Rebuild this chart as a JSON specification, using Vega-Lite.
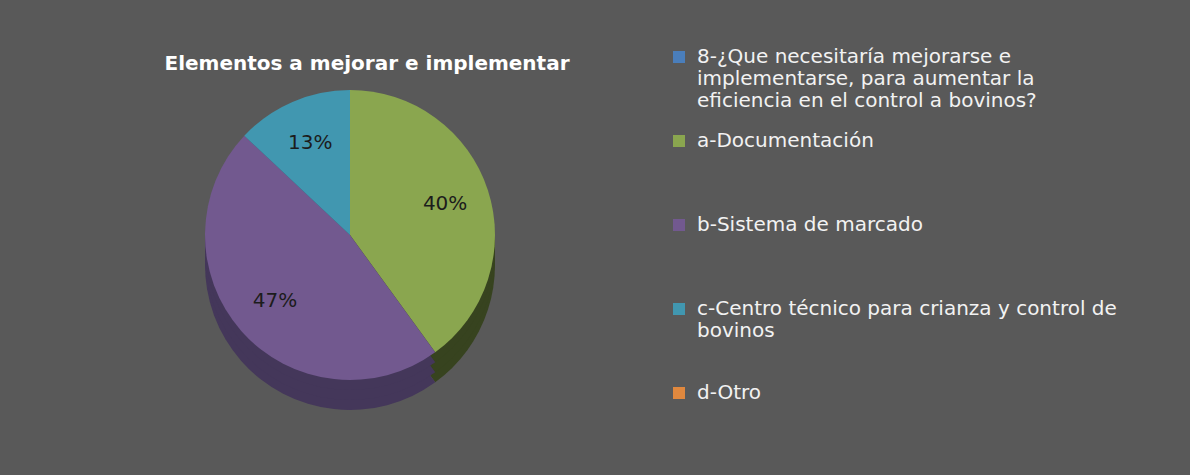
{
  "$schema": "https://vega.github.io/schema/vega-lite/v6.json",
  "autosize": {"type": "none"},
  "width": 700,
  "height": 450,
  "padding": {"left": 0, "top": 10, "right": 490, "bottom": 15},
  "background": "#595959",
  "config": {"view": {"stroke": null}},
  "title": {
    "text": "Elementos a mejorar e implementar",
    "anchor": "middle",
    "dx": 17,
    "offset": -84,
    "baseline": "bottom",
    "font": "DejaVu Sans",
    "fontSize": 20,
    "fontWeight": "bold",
    "color": "#ffffff"
  },
  "data": {
    "values": [
      {"cat": "8-¿Que necesitaría mejorarse e implementarse, para aumentar la eficiencia en el control a bovinos?", "share": 0},
      {"cat": "a-Documentación", "share": 0.40},
      {"cat": "b-Sistema de marcado", "share": 0.47},
      {"cat": "c-Centro técnico para crianza y control de bovinos", "share": 0.13},
      {"cat": "d-Otro", "share": 0}
    ]
  },
  "layer": [
    {
      "mark": {"type": "arc", "radius": 145, "yOffset": 30},
      "encoding": {
        "theta": {"field": "share", "type": "quantitative", "stack": true},
        "order": {"field": "cat", "type": "ordinal", "sort": "ascending"},
        "fill": {
          "condition": [
            {"test": "datum.cat == 'a-Documentación'", "value": "#37431F"},
            {"test": "datum.cat == 'b-Sistema de marcado'", "value": "#44375A"}
          ],
          "value": "#2B5F6E"
        }
      }
    },
    {
      "mark": {"type": "arc", "radius": 145, "yOffset": 20},
      "encoding": {
        "theta": {"field": "share", "type": "quantitative", "stack": true},
        "order": {"field": "cat", "type": "ordinal", "sort": "ascending"},
        "fill": {
          "condition": [
            {"test": "datum.cat == 'a-Documentación'", "value": "#37431F"},
            {"test": "datum.cat == 'b-Sistema de marcado'", "value": "#44375A"}
          ],
          "value": "#2B5F6E"
        }
      }
    },
    {
      "mark": {"type": "arc", "radius": 145, "yOffset": 10},
      "encoding": {
        "theta": {"field": "share", "type": "quantitative", "stack": true},
        "order": {"field": "cat", "type": "ordinal", "sort": "ascending"},
        "fill": {
          "condition": [
            {"test": "datum.cat == 'a-Documentación'", "value": "#37431F"},
            {"test": "datum.cat == 'b-Sistema de marcado'", "value": "#44375A"}
          ],
          "value": "#2B5F6E"
        }
      }
    },
    {
      "mark": {"type": "arc", "radius": 145},
      "encoding": {
        "theta": {"field": "share", "type": "quantitative", "stack": true},
        "order": {"field": "cat", "type": "ordinal", "sort": "ascending"},
        "color": {
          "field": "cat",
          "type": "nominal",
          "scale": {
            "domain": [
              "8-¿Que necesitaría mejorarse e implementarse, para aumentar la eficiencia en el control a bovinos?",
              "a-Documentación",
              "b-Sistema de marcado",
              "c-Centro técnico para crianza y control de bovinos",
              "d-Otro"
            ],
            "range": ["#4A7EBB", "#8AA64F", "#72598F", "#4197B0", "#E0883E"]
          },
          "legend": {
            "orient": "none",
            "legendX": 669,
            "legendY": 37,
            "title": null,
            "symbolType": "square",
            "symbolSize": 144,
            "symbolStrokeWidth": 0,
            "labelFont": "DejaVu Sans",
            "labelFontSize": 20,
            "labelColor": "#f2f2f2",
            "labelLimit": 520,
            "labelOffset": 8,
            "rowPadding": 20,
            "labelExpr": "indexof(datum.label, '8-') == 0 ? ['8-¿Que necesitaría mejorarse e', 'implementarse, para aumentar la', 'eficiencia en el control a bovinos?'] : indexof(datum.label, 'c-') == 0 ? ['c-Centro técnico para crianza y control de', 'bovinos', ''] : [datum.label, '', '']"
          }
        }
      }
    },
    {
      "transform": [{"filter": "datum.share > 0"}],
      "mark": {"type": "text", "radius": 100, "font": "DejaVu Sans", "fontSize": 20, "fill": "#1c1c1c"},
      "encoding": {
        "theta": {"field": "share", "type": "quantitative", "stack": true},
        "order": {"field": "cat", "type": "ordinal", "sort": "ascending"},
        "text": {"field": "share", "type": "quantitative", "format": ".0%"}
      }
    }
  ]
}
